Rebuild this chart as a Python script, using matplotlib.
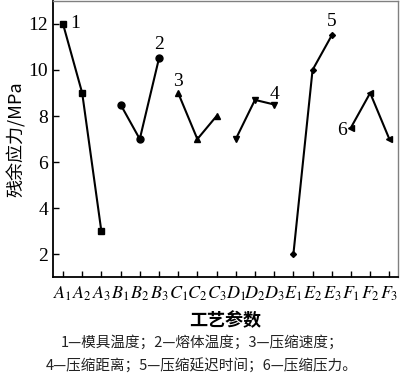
import matplotlib
matplotlib.use("Agg")
import matplotlib.pyplot as plt

plt.rcParams["mathtext.fontset"] = "stix"
plt.rcParams["font.family"] = ["Liberation Serif", "Noto Sans CJK SC", "DejaVu Sans"]

# 工艺参数（水平）
groups = ["A", "B", "C", "D", "E", "F"]
levels = ["1", "2", "3"]
tick_labels = [rf"$\mathit{{{g}}}_{{\mathrm{{{l}}}}}$" for g in groups for l in levels]
y_ticks = [2, 4, 6, 8, 10, 12]

# 残余应力 / MPa
stress = {
    "A": [12, 9, 3],
    "B": [8.5, 7, 10.5],
    "C": [9, 7, 8],
    "D": [7, 8.7, 8.5],
    "E": [2, 10, 11.5],
    "F": [7.5, 9, 7],
}
markers = {"A": ("s", 5), "B": ("o", 5), "C": ("^", 4.5),
           "D": ("v", 4.5), "E": ("D", 3), "F": ("<", 4.5)}
curve_ids = ["1", "2", "3", "4", "5", "6"]
caption = ["1—模具温度；2—熔体温度；3—压缩速度；",
           "4—压缩距离；5—压缩延迟时间；6—压缩压力。"]

fig = plt.figure(figsize=(4.0, 3.79), dpi=100)
ax = fig.add_axes([0.1325, 0.268, 0.8625, 0.73])

for i, g in enumerate(groups):
    xs = [3 * i + k for k in range(3)]
    m, ms = markers[g]
    ax.plot(xs, stress[g], color="black", lw=1.5, marker=m, ms=ms)

# 曲线编号
lab_style = dict(fontsize=14, family="Liberation Serif", color="black", va="center")
ax.text(0.36, 12.0, curve_ids[0], ha="left", **lab_style)
ax.text(5, 11.1, curve_ids[1], ha="center", **lab_style)
ax.text(6, 9.5, curve_ids[2], ha="center", **lab_style)
ax.text(11.0, 8.95, curve_ids[3], ha="center", **lab_style)
ax.text(14.0, 12.1, curve_ids[4], ha="center", **lab_style)
ax.text(14.78, 7.37, curve_ids[5], ha="right", **lab_style)

ax.set_xlim(-0.52, 17.45)
ax.set_ylim(1, 13)
ax.set_xticks(range(len(tick_labels)))
ax.set_xticklabels(tick_labels, fontsize=13)
ax.set_yticks(y_ticks)
ax.set_yticklabels([str(v) for v in y_ticks], fontsize=14, family="Liberation Serif")
ax.tick_params(axis="y", direction="in", length=4, width=1)
ax.tick_params(axis="x", direction="in", length=4, width=1, pad=5)

for s in ["left", "bottom"]:
    ax.spines[s].set_linewidth(1.3)
for s in ["top", "right"]:
    ax.spines[s].set_color("#808080")
    ax.spines[s].set_linewidth(1.0)

ax.set_ylabel("残余应力/MPa", fontsize=13, family=["Noto Sans CJK SC"], labelpad=2)
ax.set_xlabel("工艺参数", fontsize=13, fontweight="bold", family=["Noto Sans CJK SC"], labelpad=6)

fig.text(0.505, 0.098, caption[0], ha="center", va="center", fontsize=10.5,
         family=["Noto Sans CJK SC"], color="#222222")
fig.text(0.505, 0.033, caption[1], ha="center", va="center", fontsize=10.5,
         family=["Noto Sans CJK SC"], color="#222222")

fig.savefig("out.png", dpi=100)
